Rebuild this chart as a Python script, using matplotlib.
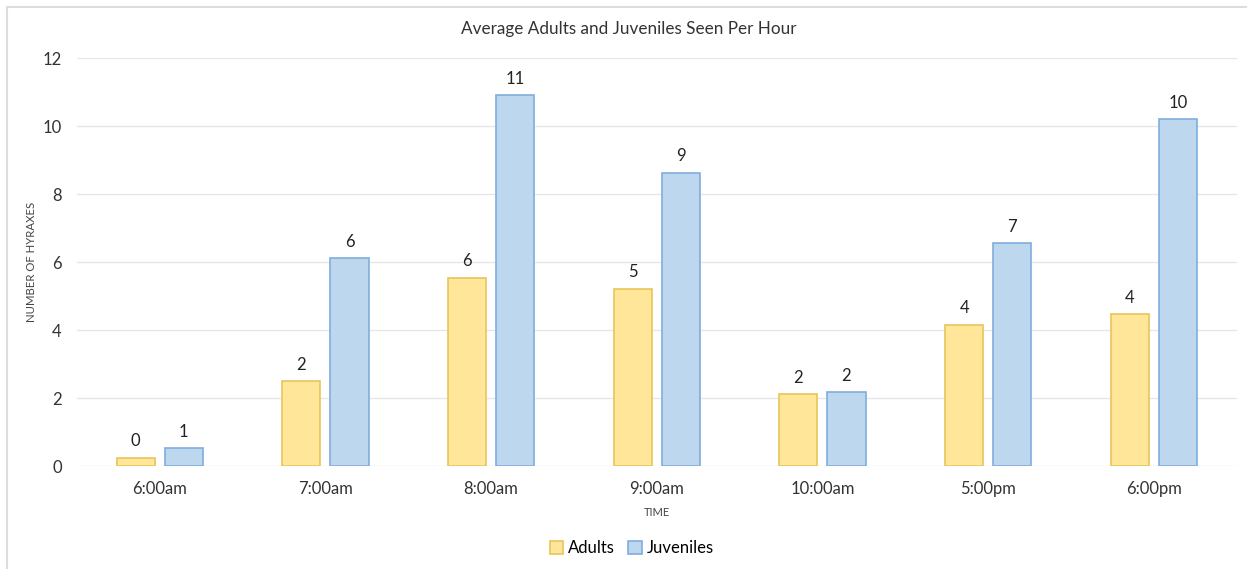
import matplotlib.pyplot as plt
import matplotlib.patches as mpatches
import numpy as np

# values
times = ['6:00am', '7:00am', '8:00am', '9:00am', '10:00am', '5:00pm', '6:00pm']
adults = [0.25, 2.5, 5.54, 5.22, 2.11, 4.16, 4.46]
juveniles = [0.52, 6.12, 10.9, 8.63, 2.17, 6.55, 10.2]
y_ticks = [0, 2, 4, 6, 8, 10, 12]

plt.rcParams['font.family'] = ['Lato', 'DejaVu Sans']

fig = plt.figure(figsize=(12.47, 5.69), dpi=100)
ax = fig.add_axes([0.0617, 0.181, 0.930, 0.717])

x = np.arange(len(times))
w = 0.23
gap = 0.03
b1 = ax.bar(x - w / 2 - gap, adults, w, color='#FFE699', edgecolor='#E8C55A', linewidth=1.2,
            label='Adults', zorder=3)
b2 = ax.bar(x + w / 2 + gap, juveniles, w, color='#BDD7EE', edgecolor='#80AEDD', linewidth=1.2,
            label='Juveniles', zorder=3)

# data labels, rounded like the original
for bars in (b1, b2):
    ax.bar_label(bars, labels=['{:.0f}'.format(v) for v in bars.datavalues],
                 padding=6, fontsize=12, color='#222222')

ax.set_xlim(-0.5, len(times) - 0.5)
ax.set_ylim(0, 12)
ax.set_yticks(y_ticks)
ax.set_xticks(x)
ax.set_xticklabels(times)
ax.tick_params(axis='both', length=0, labelsize=12, colors='#333333')
ax.tick_params(axis='x', pad=11)
ax.tick_params(axis='y', pad=11)
ax.grid(axis='y', color='#E6E6E6', linewidth=1, zorder=0)
for s in ax.spines.values():
    s.set_visible(False)

# title is centred on the figure, not on the plot area
fig.text(629 / 1247, 1 - 29 / 569, 'Average Adults and Juveniles Seen Per Hour',
         ha='center', va='center', fontsize=12.3, color='#333333')
ax.set_xlabel('TIME', fontsize=8, color='#444444', labelpad=7)
ax.set_ylabel('NUMBER OF HYRAXES', fontsize=8.2, color='#444444', labelpad=4)

ax.legend(loc='center', bbox_to_anchor=((632 - 77) / 1160, -(548 - 466) / 408), ncol=2,
          frameon=False, fontsize=12, handlelength=0.8, handleheight=0.8,
          handletextpad=0.3, columnspacing=0.8)

# thin grey frame around the whole chart
fig.patches.append(mpatches.Rectangle((7 / 1247, -0.01), 1.02, 1 - 7 / 569 + 0.01,
                                      transform=fig.transFigure, fill=False,
                                      edgecolor='#DDDDDD', linewidth=1.5))

plt.savefig('out.png', dpi=100)
